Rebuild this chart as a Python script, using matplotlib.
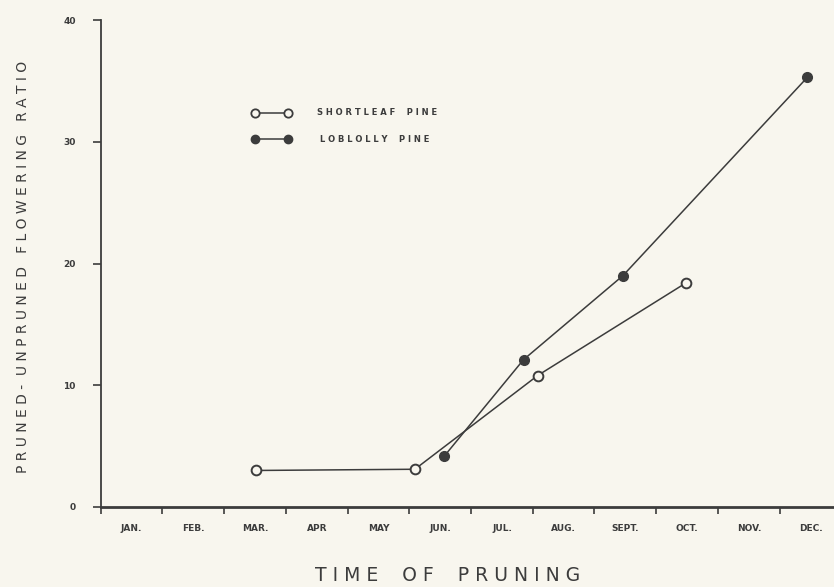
import matplotlib
matplotlib.use("Agg")
import matplotlib.pyplot as plt
import numpy as np

months = ["JAN.", "FEB.", "MAR.", "APR", "MAY", "JUN.", "JUL.", "AUG.", "SEPT.", "OCT.", "NOV.", "DEC."]
y_ticks = [0, 10, 20, 30, 40]

shortleaf_x = [2.51, 5.09, 7.08, 9.48]
shortleaf_y = [3.0, 3.1, 10.8, 18.4]
loblolly_x = [5.57, 6.85, 8.46, 11.45]
loblolly_y = [4.2, 12.1, 19.0, 35.3]

bg = "#f8f6ee"
ink = "#3c3c3c"

fig = plt.figure(figsize=(8.34, 5.87), dpi=100, facecolor=bg)
ax = fig.add_axes([0.1207, 0.1363, 0.8793, 0.8296], facecolor=bg)

ax.plot(shortleaf_x, shortleaf_y, color=ink, lw=1.1, marker="o", ms=7,
        mfc=bg, mec=ink, mew=1.4, zorder=3)
ax.plot(loblolly_x, loblolly_y, color=ink, lw=1.1, marker="o", ms=7,
        mfc=ink, mec=ink, mew=1.0, zorder=3)

ax.set_xlim(0, 11.88)
ax.set_ylim(0, 40)
for s in ["top", "right"]:
    ax.spines[s].set_visible(False)
ax.spines["left"].set_color(ink)
ax.spines["bottom"].set_color(ink)
ax.spines["left"].set_linewidth(1.3)
ax.spines["bottom"].set_linewidth(2.0)

ax.set_xticks(np.arange(0, 12))
ax.set_xticklabels([])
ax.set_xticks(np.arange(12) + 0.5, minor=True)
ax.set_xticklabels(months, minor=True, fontsize=6.5, fontweight="bold", color=ink)
ax.tick_params(axis="x", which="major", direction="out", length=5, width=1.2, color=ink)
ax.tick_params(axis="x", which="minor", length=0, pad=12)

ax.set_yticks(y_ticks)
ax.set_yticklabels([str(v) for v in y_ticks], fontsize=6.5, fontweight="bold", color=ink)
ax.tick_params(axis="y", direction="out", length=6, width=1.2, color=ink, pad=12)

fig.text(0.537, 0.004, "T I M E    O F    P R U N I N G", fontsize=13.5, color=ink,
         ha="center", va="bottom")
fig.text(0.028, 0.545, "P R U N E D -  U N P R U N E D   F L O W E R I N G   R A T I O",
         fontsize=10, color=ink, rotation=90, ha="center", va="center")

# legend drawn in axes data space
ax.plot([2.5, 3.03], [32.4, 32.4], color=ink, lw=1.1, marker="o", ms=6,
        mfc=bg, mec=ink, mew=1.3, clip_on=False)
ax.plot([2.5, 3.03], [30.2, 30.2], color=ink, lw=1.1, marker="o", ms=6,
        mfc=ink, mec=ink, clip_on=False)
ax.text(3.5, 32.4, "S H O R T L E A F    P I N E", fontsize=6, fontweight="bold",
        color=ink, va="center")
ax.text(3.55, 30.2, "L O B L O L L Y    P I N E", fontsize=6, fontweight="bold",
        color=ink, va="center")

fig.savefig("out.png", dpi=100, facecolor=bg)
